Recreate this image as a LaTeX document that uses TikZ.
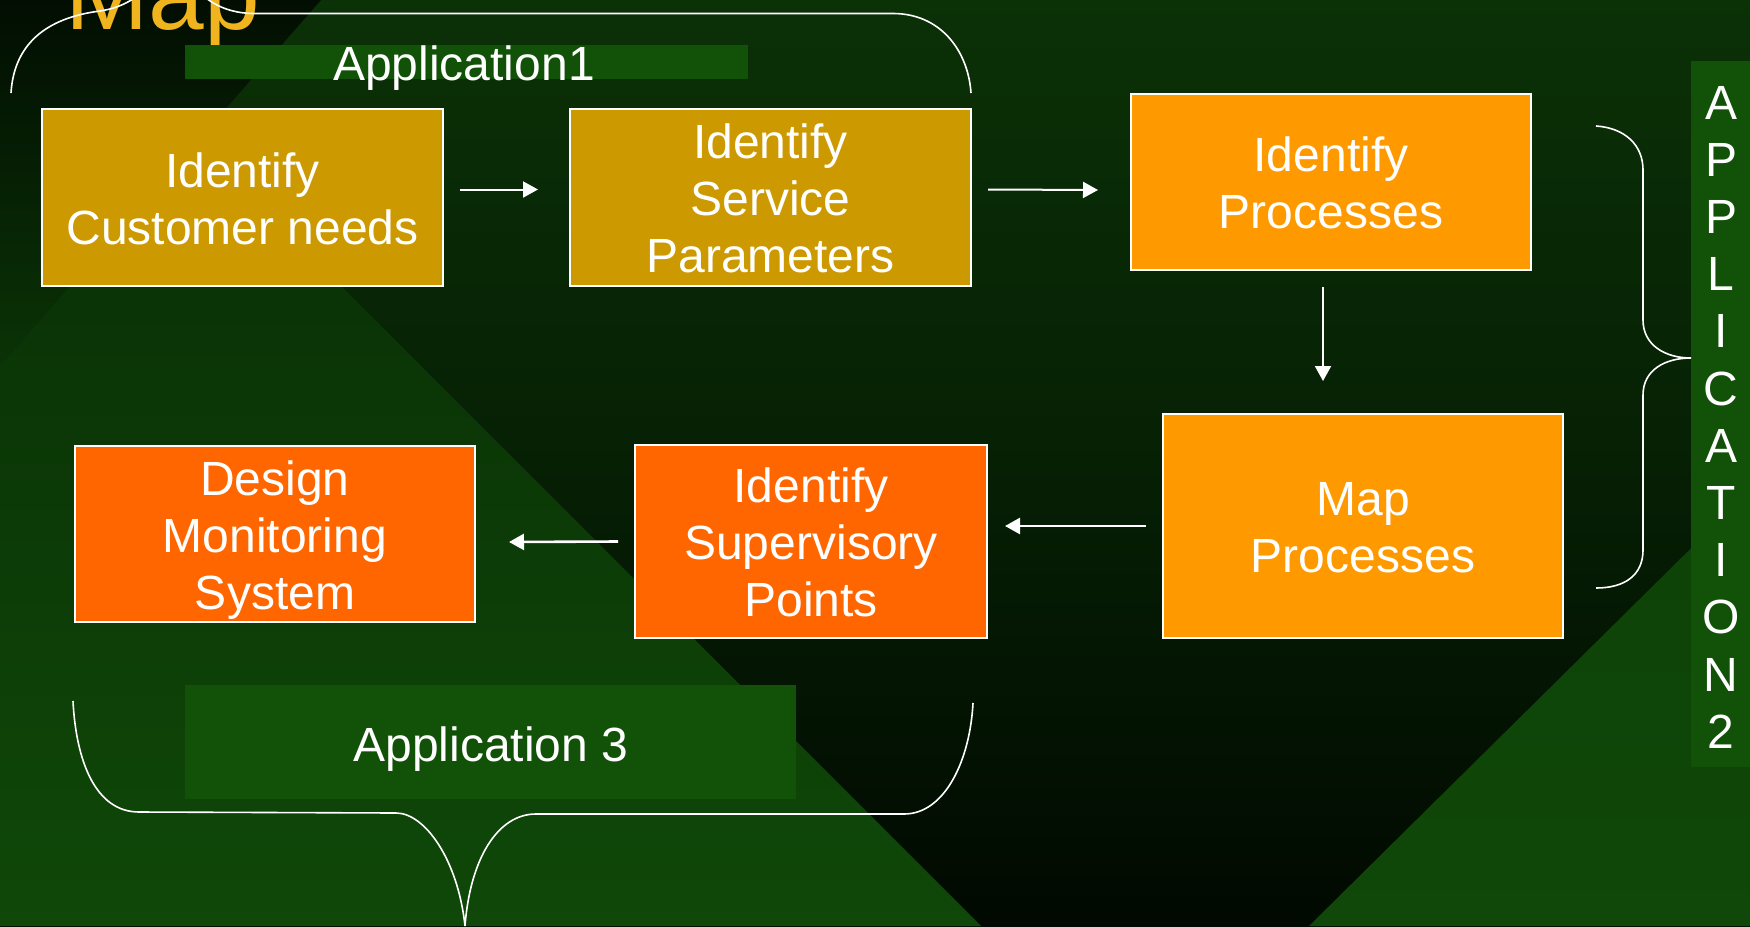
\documentclass[tikz,border=0pt]{standalone}
\usepackage{fontspec}
\setmainfont{Liberation Sans}
\usetikzlibrary{arrows.meta, calc}
\definecolor{bgtop}{HTML}{0B3107}
\definecolor{bgmid}{HTML}{062004}
\definecolor{bgbot}{HTML}{010901}
\definecolor{leaf}{HTML}{0F4808}
\definecolor{leaftop}{HTML}{082A05}
\definecolor{corner}{HTML}{020E02}
\definecolor{band}{HTML}{125208}
\definecolor{gold}{HTML}{CC9900}
\definecolor{amber}{HTML}{FF9900}
\definecolor{flame}{HTML}{FF6600}
\definecolor{headline}{HTML}{F0B41E}
% one line of box text: 23.25pt above, 5.25pt below the baseline
\newcommand{\boxstrut}{\rule[-5.25pt]{0pt}{28.5pt}}

\begin{document}
\begin{tikzpicture}[x=0.5pt, y=-0.5pt,
  stage/.style={draw=white, line width=1pt, text=white, align=center,
    font=\fontsize{24}{28.5}\selectfont, inner sep=0pt},
  flow/.style={white, line width=1pt, -{Triangle[length=7.5pt, width=8pt]}},
  brace/.style={white, line width=0.8pt},
  letter/.style={text=white, anchor=base, inner sep=0pt,
    font=\fontsize{24}{28}\selectfont}]
  \useasboundingbox (0,0) rectangle (1750,926);
  \clip (0,0) rectangle (1750,926);
  % background
  \shade[top color=bgtop, bottom color=bgbot, middle color=bgmid]
    (0,0) rectangle (1750,926);
  \shade[top color=leaftop, bottom color=leaf]
    (0,0) -- (55,0) -- (981,926) -- (0,926) -- cycle;
  \shade[top color=leaf!85!bgmid, bottom color=leaf]
    (1750,490) -- (1750,926) -- (1309,926) -- cycle;
  \shade[top color=corner, bottom color=leaftop!70!leaf]
    (0,0) -- (321,0) -- (0,366) -- cycle;
  % title, cut off at the top
  \node[headline, anchor=base west, inner sep=0pt,
        font=\fontsize{50}{50}\selectfont] (title) at (65,29) {Map};
  % application bands
  \fill[band] (185,45) rectangle (748,79);
  \node[letter] (app1) at (464,80) {Application1};
  \fill[band] (185,685) rectangle (796,799);
  \node[letter] (app3) at (491,761) {Application 3};
  \fill[band] (1691,61) rectangle (1750,767);
  \foreach \c [count=\i] in {A,P,P,L,I,C,A,T,I,O,N,2} {
    \node[letter] (app2-\i) at (1721, {119+57.2*(\i-1)}) {\c};
  }
  % top row
  \node[stage, fill=gold, minimum width=200.5pt, minimum height=88.5pt]
    (needs) at (242.5,197.5) {\boxstrut Identify\\\boxstrut Customer needs};
  \node[stage, fill=gold, minimum width=200.5pt, minimum height=88.5pt]
    (params) at (770.5,197.5)
    {\boxstrut Identify\\\boxstrut Service\\\boxstrut Parameters};
  \node[stage, fill=amber, minimum width=200pt, minimum height=88pt]
    (procs) at (1331,182) {\boxstrut Identify\\\boxstrut Processes};
  % bottom row
  \node[stage, fill=amber, minimum width=200pt, minimum height=112pt]
    (mapping) at (1363,526) {\boxstrut Map\\\boxstrut Processes};
  \node[stage, fill=flame, minimum width=176pt, minimum height=96.5pt]
    (points) at (811,541.5)
    {\boxstrut Identify\\\boxstrut Supervisory\\\boxstrut Points};
  \node[stage, fill=flame, minimum width=200pt, minimum height=88pt]
    (design) at (275,534)
    {\boxstrut Design\\\boxstrut Monitoring\\\boxstrut System};
  % arrows
  \draw[flow] ([shift={(16,-8)}]needs.east) -- ([shift={(-31,-8)}]params.west);
  \draw[flow] ([shift={(16,-8)}]params.east) -- ([shift={(-32,8)}]procs.west);
  \draw[flow] ([shift={(-8,16)}]procs.south) -- ([shift={(-40,-32)}]mapping.north);
  \draw[flow, line width=1.3pt] ([shift={(-16,0)}]mapping.west)
    -- ([shift={(17,-15.5)}]points.east);
  \draw[flow, line width=1.3pt] ([shift={(-16,0)}]points.west)
    -- ([shift={(33,8)}]design.east);
  % braces
  \draw[brace] (11,93) .. controls (14,45) and (45,18) .. (100,11)
    .. controls (120,8) and (135,0) .. (150,-15);
  \draw[brace] (185,-25) .. controls (200,-3) and (220,13.5) .. (255,13.5)
    -- (893,13.5) .. controls (940,13.5) and (968,50) .. (971,93);
  \draw[brace] (1596,126) .. controls (1625,128) and (1643,145) .. (1643,170)
    -- (1643,320) .. controls (1643,345) and (1665,358) .. (1691,358)
    .. controls (1665,358) and (1643,370) .. (1643,395)
    -- (1643,550) .. controls (1643,575) and (1625,588) .. (1596,588);
  \draw[brace] (73,701) .. controls (76,760) and (95,812) .. (139,812)
    -- (396,813) .. controls (425,813) and (458,860) .. (465,926)
    .. controls (470,860) and (497,814) .. (536,814)
    -- (904,814) .. controls (945,814) and (970,760) .. (973,703);
\end{tikzpicture}
\end{document}
